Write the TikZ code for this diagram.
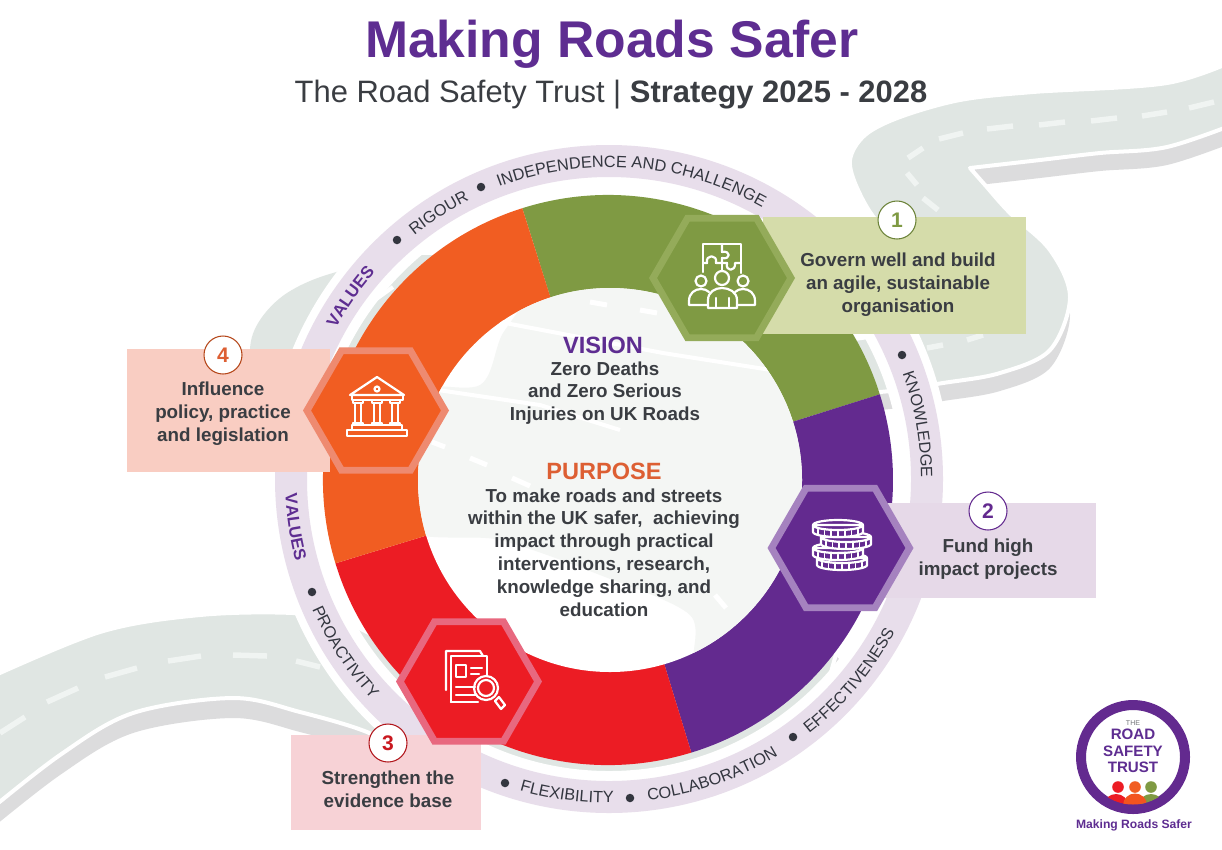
\documentclass[tikz,border=0pt]{standalone}
\usepackage{fontspec}
\setmainfont{Liberation Sans}
\usetikzlibrary{shapes.geometric,decorations.text}
\definecolor{roadc}{HTML}{E0E6E3}
\definecolor{roadpale}{HTML}{F4F6F4}
\definecolor{shadowc}{HTML}{DCDCDD}
\definecolor{dashc}{HTML}{F0F4F2}
\definecolor{bandc}{HTML}{E8DEEB}
\definecolor{inkc}{HTML}{3A3D42}
\definecolor{bandink}{HTML}{33363F}
\definecolor{titlec}{HTML}{5E2D91}
\definecolor{greenc}{HTML}{7F9A43}
\definecolor{greenb}{HTML}{94AB5A}
\definecolor{greenl}{HTML}{D5DCAA}
\definecolor{purplec}{HTML}{632A8F}
\definecolor{purpleb}{HTML}{A582BF}
\definecolor{purplel}{HTML}{E6D9E8}
\definecolor{redc}{HTML}{EC1C24}
\definecolor{redb}{HTML}{E8687F}
\definecolor{redl}{HTML}{F7D2D6}
\definecolor{orangec}{HTML}{F15D22}
\definecolor{orangeb}{HTML}{EE8A70}
\definecolor{orangel}{HTML}{F9CDC2}
\definecolor{purposec}{HTML}{DD5F33}
\newcommand{\px}[2]{\fontsize{#1}{#2}\selectfont}
\newcommand{\bandfont}{\px{9.3}{11}\color{bandink}}
\newcommand{\valfont}{\px{9.6}{12}\bfseries\color{titlec}}
% clockwise text: centre angle, half span, radius, text
\newcommand{\cwtext}[4]{\path[decorate,decoration={text along path,text align=center,text={#4}}]
  (609,479) ++(#1-#2:#3) arc[start angle=#1-#2,end angle=#1+#2,radius=#3];}
\newcommand{\ccwtext}[4]{\path[decorate,decoration={text along path,text align=center,text={#4}}]
  (609,479) ++(#1+#2:#3) arc[start angle=#1+#2,end angle=#1-#2,radius=#3];}
\newcommand{\coin}[2]{%
  \filldraw[icon,fill=purplec] (#1-25,#2) -- (#1-25,#2+7) arc[start angle=180,end angle=0,x radius=25,y radius=5] -- (#1+25,#2) arc[start angle=0,end angle=360,x radius=25,y radius=5] -- cycle;
  \foreach \t/\f in {-20/3,-13.5/4.2,-7/4.8,0/5,7/4.8,13.5/4.2,20/3}{\draw[icon,line width=0.9pt] (#1+\t,#2+\f+1.5) -- (#1+\t,#2+\f+6);}
}
\tikzset{
  roadfill/.style={fill=roadc,draw=white,line width=0.08cm,line join=round},
  roadshadow/.style={fill=shadowc},
  roaddash/.style={draw=dashc,line width=0.11cm},
  bandbullet/.style={circle,fill=bandink,inner sep=0pt,minimum size=0.17cm},
  panel/.style={inner sep=0pt,outer sep=0pt},
  hexa/.style={regular polygon,regular polygon sides=6,minimum size=2.76cm,line width=0.139cm,inner sep=0pt,line join=miter},
  numc/.style={circle,fill=white,line width=0.6pt,minimum size=0.76cm,inner sep=0pt,font=\px{12}{14}\bfseries},
  bodyt/.style={align=center,inner sep=0pt,text=inkc,font=\px{10.7}{13}\bfseries},
  icon/.style={draw=white,line width=1.25pt,line cap=round,line join=round},
  logot/.style={inner sep=0pt,text=titlec,font=\px{8.6}{10}\bfseries},
}
\begin{document}
\begin{tikzpicture}[x=0.02cm,y=-0.02cm]
\useasboundingbox (0,0) rectangle (1222,849);
\fill[white] (0,0) rectangle (1222,849);
\begin{scope}
\clip (0,0) rectangle (1222,849);
% road, upper right
\def\roadA{plot[smooth,tension=0.55] coordinates {(1240,58) (1167,83) (1033,92) (960,100) (900,117) (865,135) (850,160) (858,190) (880,225) (930,270) (955,295) (945,315) (880,335) (800,345)}
  -- plot[smooth,tension=0.55] coordinates {(800,395) (880,392) (943,383) (1000,373) (1050,350) (1070,297) (1050,250) (1010,213) (985,185) (970,168)}
  -- plot[smooth,tension=0.55] coordinates {(970,168) (1040,160) (1100,153) (1167,147) (1240,122)} -- cycle}
\begin{scope}
\clip (965,120) -- (1240,80) -- (1240,450) -- (800,450) -- (800,300) -- (1000,300) -- cycle;
\fill[roadshadow,yshift=-0.36cm] \roadA;
\end{scope}
\path[roadfill] \roadA;
\foreach \a/\b/\c/\d in {1189/108/1214/102,1142/116/1167/112,1091/121/1117/118,1039/125/1065/122,987/129/1013/126,939/139/963/133,908/158/923/148,907/173/917/185,923/198/938/210,967/340/983/335,927/348/943/345}
  \draw[roaddash] (\a,\b) -- (\c,\d);
% road, left bend
\fill[roadc] plot[smooth,tension=0.55] coordinates {(620,270) (420,255) (333,273) (287,293) (260,320) (250,350) (258,400) (285,455) (330,470)} -- (500,480) -- (800,420) -- (820,330) -- cycle;
\draw[white,line width=0.08cm] (375,300) -- (393,287);
% road, lower left
\def\roadC{plot[smooth,tension=0.55] coordinates {(-20,682) (100,632) (200,615) (293,613) (345,622) (400,650)}
  -- (500,650) -- (700,650) -- (800,600) -- (840,640) -- (826,690)
  -- plot[smooth,tension=0.55] coordinates {(826,690) (700,770) (600,790) (420,760) (367,732) (300,712) (233,698) (133,713) (60,755) (-20,818)} -- cycle}
\fill[roadshadow,yshift=-0.4cm] \roadC;
\path[roadfill] \roadC;
\foreach \a/\b/\c/\d in {0/733/25/717,47/702/78/688,105/677/137/668,168/661/201/656,233/655/267/656,296/661/320/667}
  \draw[roaddash] (\a,\b) -- (\c,\d);
\end{scope}
% values band
\draw[white,line width=1cm] (609,479) circle[radius=317];
\draw[bandc,line width=0.64cm] (609,479) circle[radius=318];
\cwtext{-144.8}{16}{312}{|\valfont|VALUES}
\cwtext{-122.6}{14}{312}{|\bandfont|RIGOUR}
\cwtext{-85.6}{36}{312}{|\bandfont|INDEPENDENCE AND CHALLENGE}
\cwtext{-10}{18}{312}{|\bandfont|KNOWLEDGE}
\ccwtext{171.3}{14}{324}{|\valfont|VALUES}
\ccwtext{146.7}{18}{324}{|\bandfont|PROACTIVITY}
\ccwtext{97.6}{14}{324}{|\bandfont|FLEXIBILITY}
\ccwtext{70.8}{20}{324}{|\bandfont|COLLABORATION}
\ccwtext{40}{20}{324}{|\bandfont|EFFECTIVENESS}
\node[bandbullet] (bu1) at (397,240) {};
\node[bandbullet] (bu2) at (481,187) {};
\node[bandbullet] (bu3) at (902,355) {};
\node[bandbullet] (bu4) at (312,592) {};
\node[bandbullet] (bu5) at (505,783) {};
\node[bandbullet] (bu6) at (630,798) {};
\node[bandbullet] (bu7) at (793,737) {};
% ring
\fill[greenc] (608,480) -- ++(252.5:285) arc[start angle=252.5,end angle=342.5,radius=285] -- cycle;
\fill[purplec] (608,480) -- ++(342.5:285) arc[start angle=342.5,end angle=433,radius=285] -- cycle;
\fill[redc] (608,480) -- ++(73:285) arc[start angle=73,end angle=163,radius=285] -- cycle;
\fill[orangec] (608,480) -- ++(163:285) arc[start angle=163,end angle=252.5,radius=285] -- cycle;
\fill[white] (610,480) circle[radius=192];
\begin{scope}
\clip (610,480) circle[radius=192];
\fill[roadpale] plot[smooth cycle,tension=0.5] coordinates {(400,395) (480,385) (505,330) (560,280) (720,280) (825,380) (820,600) (740,685) (695,668) (690,615) (600,575) (500,540) (400,525)};
\draw[white,line width=0.08cm] (500,322) -- (663,353) -- (790,373);
\draw[white,line width=0.08cm] (438,390) -- (540,405) -- (620,430);
\foreach \a/\b/\c/\d in {590/302/607/305,640/310/657/313,432/442/445/447,470/458/487/465,512/478/530/486,715/595/726/608}
  \draw[white,line width=0.1cm] (\a,\b) -- (\c,\d);
\end{scope}
% titles
\node[inner sep=0pt,text=titlec,font=\px{29.4}{34}\bfseries] (title) at (612,44) {Making Roads Safer};
\node[inner sep=0pt,text=inkc,font=\px{17.6}{22}] (subtitle) at (611,95) {The Road Safety Trust | \textbf{Strategy 2025 - 2028}};
% centre
\node[inner sep=0pt,text=titlec,font=\px{13.4}{16}\bfseries] (vision) at (603,345) {VISION};
\node[bodyt] (visiontext) at (605,393) {Zero Deaths\\and Zero Serious\\Injuries on UK Roads};
\node[inner sep=0pt,text=purposec,font=\px{13.4}{16}\bfseries] (purpose) at (604,471) {PURPOSE};
\node[bodyt] (purposetext) at (604,552.5) {To make roads and streets\\within the UK safer,\ \ achieving\\impact through practical\\interventions, research,\\knowledge sharing, and\\education};
% panels
\node[panel,fill=greenl,minimum width=5.26cm,minimum height=2.34cm] (p1) at (894.5,275.5) {};
\node[panel,fill=purplel,minimum width=4.72cm,minimum height=1.9cm] (p2) at (978,550.5) {};
\node[panel,fill=redl,minimum width=3.8cm,minimum height=1.9cm] (p3) at (386,782.5) {};
\node[panel,fill=orangel,minimum width=4.06cm,minimum height=2.46cm] (p4) at (228.5,410.5) {};
\node[hexa,fill=greenc,draw=greenb] (h1) at (722,278) {};
\node[hexa,fill=purplec,draw=purpleb] (h2) at (840.5,548) {};
\node[hexa,fill=redc,draw=redb] (h3) at (469,681.5) {};
\node[hexa,fill=orangec,draw=orangeb] (h4) at (376,410.5) {};
\node[numc,draw=greenc!85!black,text=greenc] (n1) at (897,220) {1};
\node[numc,draw=purplec,text=purplec] (n2) at (988,511) {2};
\node[numc,draw=redc!75!black,text=redc!85!black] (n3) at (388,743) {3};
\node[numc,draw=orangec!75!black,text=purposec] (n4) at (223,355) {4};
\node[bodyt] (t1) at (898,285) {Govern well and build\\an agile, sustainable\\organisation};
\node[bodyt] (t2) at (988,559.5) {Fund high\\impact projects};
\node[bodyt] (t3) at (388,789) {Strengthen the\\evidence base};
\node[bodyt] (t4) at (223,414) {Influence\\policy, practice\\and legislation};
% icon 1
\draw[icon] (703,272) -- (703,244) -- (741,244) -- (741,273);
\draw[icon] (703,263) -- (707,263) .. controls (705,254) and (718,254) .. (716,263) -- (722,263) -- (722,258) .. controls (731,260) and (731,250) .. (722,252) -- (722,244);
\draw[icon] (722,263) -- (727,263) .. controls (725,272) and (736,272) .. (735,263) -- (741,263);
\draw[icon] (722,263) -- (722,271);
\draw[icon] (701,281) circle[radius=5.5];
\draw[icon] (743,281) circle[radius=5.5];
\draw[icon] (722,278) circle[radius=7];
\draw[icon] (708,308) -- (708,300) .. controls (708,292) and (715,288) .. (722,288) .. controls (729,288) and (737,292) .. (737,300) -- (737,308) -- cycle;
\draw[icon] (716,308) -- (716,298);
\draw[icon] (729,308) -- (729,298);
\draw[icon] (707,305) -- (689,305) -- (689,301) .. controls (689,293) and (695,289) .. (701,289) .. controls (704,289) and (707,290) .. (709,292);
\draw[icon] (738,305) -- (755,305) -- (755,301) .. controls (755,293) and (749,289) .. (743,289) .. controls (740,289) and (737,290) .. (735,292);
% icon 2
\coin{842}{558}
\coin{838}{548}
\coin{846}{537}
\coin{838}{525}
% icon 3
\draw[icon] (446,690) -- (446,651) -- (480,651) -- (483,656);
\draw[icon] (451,702) -- (451,656) -- (487,656) -- (487,676);
\draw[icon] (451,702) -- (478,702);
\draw[icon] (456,665) rectangle (466,677);
\draw[icon] (471,668) -- (482,668);
\draw[icon] (471,674) -- (479,674);
\draw[icon] (456,687) -- (475,687);
\draw[icon] (456,695) -- (476,695);
\draw[icon] (486,688) circle[radius=12];
\draw[icon] (486,688) circle[radius=8];
\draw[icon,fill=redc] (495,701) -- (499,697) -- (505,705) -- (501,709) -- cycle;
% icon 4
\draw[icon] (350,395) -- (377,377) -- (404,395) -- cycle;
\draw[icon] (377,389) circle[radius=2.5];
\draw[icon] (352,395) rectangle (403,400);
\foreach \c in {358,377,395}{
  \draw[icon] (\c-5,400) rectangle (\c+5,403);
  \draw[icon] (\c-3,403) -- (\c-3,423);
  \draw[icon] (\c+3,403) -- (\c+3,423);
  \draw[icon] (\c-5,423) rectangle (\c+5,425);
}
\draw[icon] (352,425) rectangle (402,430);
\draw[icon] (347,430) rectangle (407,436);
% logo
\draw[purplec,line width=0.2cm] (1133,757) circle[radius=52];
\begin{scope}
\clip (1133,757) circle[radius=47.5];
\fill[greenc] (1151,805) ellipse[x radius=12,y radius=11];
\fill[redc] (1116,805) ellipse[x radius=12,y radius=11];
\fill[orangec!90!red] (1135,805) ellipse[x radius=12,y radius=11.5];
\end{scope}
\fill[redc] (1118,787) circle[radius=5.8];
\fill[orangec] (1135,787) circle[radius=5.8];
\fill[greenc] (1151,787) circle[radius=5.8];
\node[inner sep=0pt,text=inkc!70,font=\px{4}{5}] (lg0) at (1133,723) {THE};
\node[logot] (lg1) at (1133,734) {ROAD};
\node[logot] (lg2) at (1133,751) {SAFETY};
\node[logot] (lg3) at (1133,767) {TRUST};
\node[inner sep=0pt,text=titlec,font=\px{6.9}{8}\bfseries] (lg4) at (1134,825) {Making Roads Safer};
\end{tikzpicture}
\end{document}
